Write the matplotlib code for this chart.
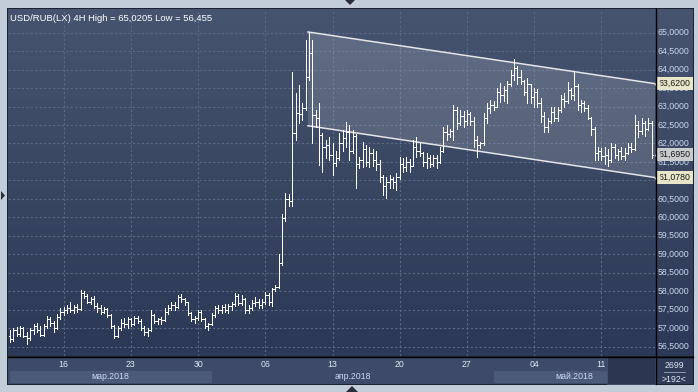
import numpy as np
import matplotlib.pyplot as plt
from matplotlib.patches import Rectangle, Polygon

plt.rcParams['font.family'] = ['Liberation Sans', 'DejaVu Sans']

# 4H bars, USD/RUB, 12.03.2018 - 16.05.2018
opens = [56.80, 56.70, 56.95, 56.85, 57.00, 56.80, 56.72, 56.95, 57.05, 56.95,
         56.82, 57.05, 57.25, 57.15, 57.00, 57.30, 57.45, 57.50, 57.55, 57.48,
         57.58, 57.52, 57.95, 57.88, 57.72, 57.80, 57.60, 57.55, 57.45, 57.52,
         57.35, 57.05, 56.80, 57.00, 57.15, 57.10, 57.25, 57.12, 57.28, 57.20,
         57.00, 56.90, 56.95, 57.35, 57.20, 57.25, 57.22, 57.45, 57.55, 57.62,
         57.58, 57.85, 57.78, 57.70, 57.40, 57.25, 57.28, 57.45, 57.25, 57.05,
         57.10, 57.35, 57.55, 57.48, 57.58, 57.50, 57.60, 57.65, 57.88, 57.68,
         57.80, 57.48, 57.55, 57.68, 57.72, 57.62, 57.72, 57.90, 57.70, 58.05,
         58.12, 58.76, 59.98, 60.50, 60.45, 62.28, 62.83, 62.80, 62.95, 63.80,
         64.45, 62.77, 62.70, 62.23, 61.90, 61.95, 61.70, 61.47, 61.60, 62.00,
         62.15, 62.30, 61.80, 62.20, 61.45, 61.55, 61.85, 61.50, 61.75, 61.55,
         61.45, 61.10, 60.85, 60.95, 61.05, 60.95, 61.10, 61.45, 61.35, 61.50,
         61.40, 61.90, 61.80, 61.75, 61.50, 61.60, 61.45, 61.62, 61.50, 61.80,
         62.30, 62.25, 62.35, 62.90, 62.55, 62.75, 62.60, 62.80, 62.60, 62.10,
         61.95, 62.00, 62.70, 62.95, 63.05, 63.00, 63.40, 63.30, 63.45, 63.60,
         63.85, 64.05, 63.80, 63.70, 63.40, 63.60, 63.25, 63.40, 63.10, 62.75,
         62.45, 62.60, 62.85, 62.70, 62.90, 63.20, 63.15, 63.45, 63.30, 63.55,
         63.05, 63.10, 62.95, 62.70, 62.40, 61.75, 61.80, 61.65, 61.70, 61.55,
         61.90, 61.70, 61.80, 61.65, 61.75, 61.90, 61.85, 62.50, 62.35, 62.55,
         62.40, 62.55]
highs = [56.95, 57.00, 57.02, 57.05, 57.03, 56.90, 57.00, 57.12, 57.15, 57.05,
         57.10, 57.32, 57.30, 57.20, 57.38, 57.55, 57.58, 57.62, 57.70, 57.62,
         57.65, 58.02, 58.00, 57.92, 57.85, 57.86, 57.68, 57.62, 57.58, 57.55,
         57.38, 57.08, 57.05, 57.25, 57.28, 57.30, 57.28, 57.32, 57.33, 57.25,
         57.05, 57.00, 57.50, 57.38, 57.28, 57.30, 57.55, 57.62, 57.70, 57.72,
         57.90, 57.92, 57.82, 57.72, 57.45, 57.32, 57.50, 57.48, 57.28, 57.15,
         57.40, 57.60, 57.62, 57.62, 57.66, 57.65, 57.70, 57.95, 57.92, 57.90,
         57.82, 57.62, 57.75, 57.85, 57.80, 57.78, 57.98, 57.95, 58.10, 58.17,
         59.00, 60.10, 60.66, 60.62, 63.93, 63.37, 63.58, 63.10, 64.80, 65.02,
         64.80, 62.90, 63.10, 62.28, 62.10, 62.18, 62.00, 61.80, 62.28, 62.37,
         62.58, 62.50, 62.37, 62.25, 61.63, 62.03, 61.95, 61.90, 61.85, 61.80,
         61.55, 61.15, 61.10, 61.15, 61.10, 61.20, 61.63, 61.60, 61.63, 61.58,
         62.10, 62.18, 62.00, 61.76, 61.74, 61.70, 61.70, 61.68, 61.90, 62.45,
         62.50, 62.40, 63.04, 63.00, 62.90, 62.88, 62.90, 62.85, 62.72, 62.20,
         62.05, 62.83, 63.10, 63.18, 63.15, 63.50, 63.63, 63.55, 63.70, 64.00,
         64.30, 64.10, 64.00, 63.72, 63.77, 63.62, 63.50, 63.48, 63.23, 62.85,
         62.70, 63.00, 62.98, 63.00, 63.30, 63.36, 63.66, 63.50, 63.93, 63.60,
         63.18, 63.15, 63.05, 62.72, 62.45, 61.90, 61.88, 61.90, 61.85, 62.00,
         61.98, 61.85, 61.90, 61.88, 62.00, 62.00, 62.77, 62.60, 62.70, 62.60,
         62.70, 62.60]
lows = [56.62, 56.65, 56.78, 56.80, 56.75, 56.58, 56.68, 56.85, 56.90, 56.78,
        56.80, 57.00, 57.05, 56.90, 56.98, 57.25, 57.35, 57.40, 57.45, 57.42,
        57.45, 57.50, 57.82, 57.68, 57.65, 57.55, 57.45, 57.38, 57.40, 57.30,
        57.00, 56.72, 56.75, 56.95, 57.02, 57.00, 57.05, 57.08, 57.15, 56.95,
        56.82, 56.78, 56.92, 57.15, 57.10, 57.12, 57.20, 57.38, 57.48, 57.50,
        57.55, 57.70, 57.62, 57.35, 57.18, 57.15, 57.22, 57.20, 57.00, 56.95,
        57.08, 57.30, 57.40, 57.42, 57.45, 57.42, 57.50, 57.60, 57.62, 57.62,
        57.42, 57.40, 57.50, 57.60, 57.55, 57.55, 57.65, 57.62, 57.60, 58.00,
        58.10, 58.70, 59.90, 60.30, 60.30, 62.10, 62.55, 62.63, 62.90, 63.72,
        62.00, 62.45, 61.42, 61.23, 61.60, 61.55, 61.15, 61.40, 61.55, 61.80,
        61.90, 61.55, 61.75, 60.80, 61.33, 61.36, 61.40, 61.36, 61.40, 61.28,
        60.96, 60.60, 60.52, 60.80, 60.80, 60.74, 61.05, 61.23, 61.25, 61.23,
        61.38, 61.63, 61.65, 61.40, 61.33, 61.35, 61.38, 61.33, 61.48, 61.78,
        62.10, 62.18, 62.10, 62.40, 62.50, 62.45, 62.50, 62.50, 61.90, 61.63,
        61.88, 61.95, 62.55, 62.83, 62.90, 62.98, 63.12, 63.15, 63.10, 63.55,
        63.72, 63.60, 63.62, 63.30, 63.10, 63.10, 63.00, 62.98, 62.58, 62.30,
        62.30, 62.55, 62.60, 62.62, 62.85, 63.00, 63.10, 63.20, 63.18, 62.90,
        62.85, 62.88, 62.65, 62.23, 61.55, 61.55, 61.55, 61.45, 61.40, 61.50,
        61.60, 61.55, 61.58, 61.55, 61.72, 61.77, 61.82, 62.18, 62.25, 62.20,
        62.36, 61.60]
closes = [56.70, 56.95, 56.85, 57.00, 56.80, 56.72, 56.95, 57.05, 56.95, 56.82,
          57.05, 57.25, 57.15, 57.00, 57.30, 57.45, 57.50, 57.55, 57.48, 57.58,
          57.52, 57.95, 57.88, 57.72, 57.80, 57.60, 57.55, 57.45, 57.52, 57.35,
          57.05, 56.80, 57.00, 57.15, 57.10, 57.25, 57.12, 57.28, 57.20, 57.00,
          56.90, 56.95, 57.35, 57.20, 57.25, 57.22, 57.45, 57.55, 57.62, 57.58,
          57.85, 57.78, 57.70, 57.40, 57.25, 57.28, 57.45, 57.25, 57.05, 57.10,
          57.35, 57.55, 57.48, 57.58, 57.50, 57.60, 57.65, 57.88, 57.68, 57.80,
          57.48, 57.55, 57.68, 57.72, 57.62, 57.72, 57.90, 57.70, 58.05, 58.12,
          58.76, 59.98, 60.50, 60.45, 62.28, 62.83, 62.80, 62.95, 63.80, 64.45,
          62.77, 62.70, 62.23, 61.90, 61.95, 61.70, 61.47, 61.60, 62.00, 62.15,
          62.30, 61.80, 62.20, 61.45, 61.55, 61.85, 61.50, 61.75, 61.55, 61.45,
          61.10, 60.85, 60.95, 61.05, 60.95, 61.10, 61.45, 61.35, 61.50, 61.40,
          61.90, 61.80, 61.75, 61.50, 61.60, 61.45, 61.62, 61.50, 61.80, 62.30,
          62.25, 62.35, 62.90, 62.55, 62.75, 62.60, 62.80, 62.60, 62.10, 61.95,
          62.00, 62.70, 62.95, 63.05, 63.00, 63.40, 63.30, 63.45, 63.60, 63.85,
          64.05, 63.80, 63.70, 63.40, 63.60, 63.25, 63.40, 63.10, 62.75, 62.45,
          62.60, 62.85, 62.70, 62.90, 63.20, 63.15, 63.45, 63.30, 63.55, 63.05,
          63.10, 62.95, 62.70, 62.40, 61.75, 61.80, 61.65, 61.70, 61.55, 61.90,
          61.70, 61.80, 61.65, 61.75, 61.90, 61.85, 62.50, 62.35, 62.55, 62.40,
          62.55, 61.695]

day_ticks = [16, 36, 56, 76, 96, 116, 136, 156, 176]
day_labels = ['16', '23', '30', '06', '13', '20', '27', '04', '11']
month_names = ['мар.2018', 'апр.2018', 'май.2018']
month_start = [0, 60, 144]
month_end = [60, 144, 192]
price_levels = [56.5, 57.0, 57.5, 58.0, 58.5, 59.0, 59.5, 60.0, 60.5,
                61.0, 61.5, 62.0, 62.5, 63.0, 63.5, 64.0, 64.5, 65.0]
chan_x = [88.7, 192.0]
chan_top = [65.0205, 63.62]
chan_bot = [62.48, 61.078]
last_price = 61.695

W, H = 698, 392
fig = plt.figure(figsize=(W / 100, H / 100), dpi=100)
fig.patch.set_facecolor('#c3ccd9')

def frac(x0, y0, x1, y1):
    return [x0 / W, 1 - y1 / H, (x1 - x0) / W, (y1 - y0) / H]

# background panels (pixel overlay, behind everything)
bg = fig.add_axes([0, 0, 1, 1], zorder=-5)
bg.set_xlim(0, W)
bg.set_ylim(H, 0)
bg.axis('off')
bg.add_patch(Rectangle((7, 8), 687, 377, fc='#1c2230', ec='none'))
bg.add_patch(Rectangle((8, 357), 647, 27, fc='#3d4b68', ec='none'))
bg.add_patch(Rectangle((656, 357), 37, 27, fc='#2f3b57', ec='none'))

# main chart
ax = fig.add_axes(frac(8, 9, 655, 356))
ax.set_facecolor('none')
ax.set_xlim(-0.6, 192.0)
ax.set_ylim(56.245, 65.642)
grad = np.linspace(0, 1, 256).reshape(-1, 1)
top_c = np.array([70, 84, 111]) / 255
bot_c = np.array([44, 57, 86]) / 255
img = top_c * (1 - grad[:, :, None]) + bot_c * grad[:, :, None]
ax.imshow(img, extent=(0, 1, 0, 1), transform=ax.transAxes, aspect='auto', zorder=0)

ax.set_yticks(price_levels)
ax.set_xticks(day_ticks)
ax.grid(True, color='#5a6985', ls=(0, (2, 2)), lw=0.8, zorder=1)
ax.tick_params(length=0, labelleft=False, labelbottom=False)
for s in ax.spines.values():
    s.set_visible(False)

# channel
poly = Polygon([(chan_x[0], chan_top[0]), (chan_x[1], chan_top[1]),
                (chan_x[1], chan_bot[1]), (chan_x[0], chan_bot[0])],
               closed=True, fc='white', alpha=0.15, ec='none', zorder=2)
ax.add_patch(poly)
ax.plot(chan_x, chan_top, color='#e4e4ea', lw=1.1, zorder=3)
ax.plot(chan_x, chan_bot, color='#e4e4ea', lw=1.1, zorder=3)

# OHLC bars
idx = np.arange(len(closes))
bar_kw = dict(color='white', lw=0.72, antialiased=False, zorder=4)
ax.vlines(idx, lows, highs, **bar_kw)
ax.hlines(opens, idx - 0.45, idx, **bar_kw)
ax.hlines(closes, idx, idx + 0.45, **bar_kw)

ax.text(0.003, 0.985, 'USD/RUB(LX) 4H High = 65,0205 Low = 56,455', transform=ax.transAxes,
        ha='left', va='top', color='white', fontsize=6.8, zorder=6)

# right price scale
ytr = ax.get_yaxis_transform()
rax = fig.add_axes(frac(655, 9, 693, 356), zorder=-1)
rax.imshow(img, extent=(0, 1, 0, 1), aspect='auto')
rax.set_xlim(0, 1)
rax.set_ylim(0, 1)
rax.axis('off')
for p in price_levels:
    ax.text(1.0045, p, f'{p:.4f}'.replace('.', ','), transform=ytr, ha='left', va='center',
            color='#c9d6ee', fontsize=6.3, clip_on=False, zorder=6)

tags = [(chan_top[1], '#e8e5c8'), (last_price, '#c9cbcf'), (chan_bot[1], '#e8e5c8')]
for p, c in tags:
    ax.text(1.006, p, f'{p:.4f}'.replace('.', ','), transform=ytr, ha='left', va='center',
            color='#1a1a1a', fontsize=6.3, clip_on=False, zorder=8,
            bbox=dict(boxstyle='square,pad=0.25', fc=c, ec='none'))
    ax.plot([1.0035], [p], marker='<', ms=3.5, color=c, transform=ytr, clip_on=False, zorder=8)

# bottom time scale
bax = fig.add_axes(frac(8, 357, 655, 384))
bax.set_facecolor('none')
bax.set_xlim(ax.get_xlim())
bax.set_ylim(0, 1)
bax.axis('off')
for m, a, b in zip(month_names, month_start, month_end):
    if m != 'апр.2018':
        bax.axvspan(a, b, ymin=0.04, ymax=0.48, color='#4b5a79', lw=0)
    bax.text((a + b) / 2, 0.26, m, ha='center', va='center', color='#c9d6ee', fontsize=6.3)
for t, lbl in zip(day_ticks, day_labels):
    bax.text(t, 0.71, lbl, ha='center', va='center', color='#dde6f5', fontsize=6.3)

# frame details (pixel overlay on top)
fg = fig.add_axes([0, 0, 1, 1], zorder=10)
fg.set_facecolor('none')
fg.set_xlim(0, W)
fg.set_ylim(H, 0)
fg.axis('off')
fg.add_patch(Rectangle((607, 357), 48, 27, fc='#2b3650', ec='#46546f', lw=0.6))
fg.plot([655.5, 655.5], [9, 384], color='black', lw=1.0)
fg.plot([8, 693], [356.5, 356.5], color='black', lw=1.0)
fg.plot([664, 685], [372, 372], color='#9aa8c0', lw=0.6)
fg.text(674.5, 365, '2699', ha='center', va='center', color='#dde6f5', fontsize=6.3)
fg.text(674.5, 379, '>192<', ha='center', va='center', color='#dde6f5', fontsize=6.3)
fg.add_patch(Polygon([(345, 0), (355, 0), (350, 5)], fc='#2a2f3a', ec='none'))
fg.add_patch(Polygon([(346, 392), (358, 392), (352, 386)], fc='#2a2f3a', ec='none'))
fg.add_patch(Polygon([(1, 191), (1, 200), (5, 195.5)], fc='#2a2f3a', ec='none'))

fig.savefig('out.png', dpi=100, facecolor=fig.get_facecolor())
